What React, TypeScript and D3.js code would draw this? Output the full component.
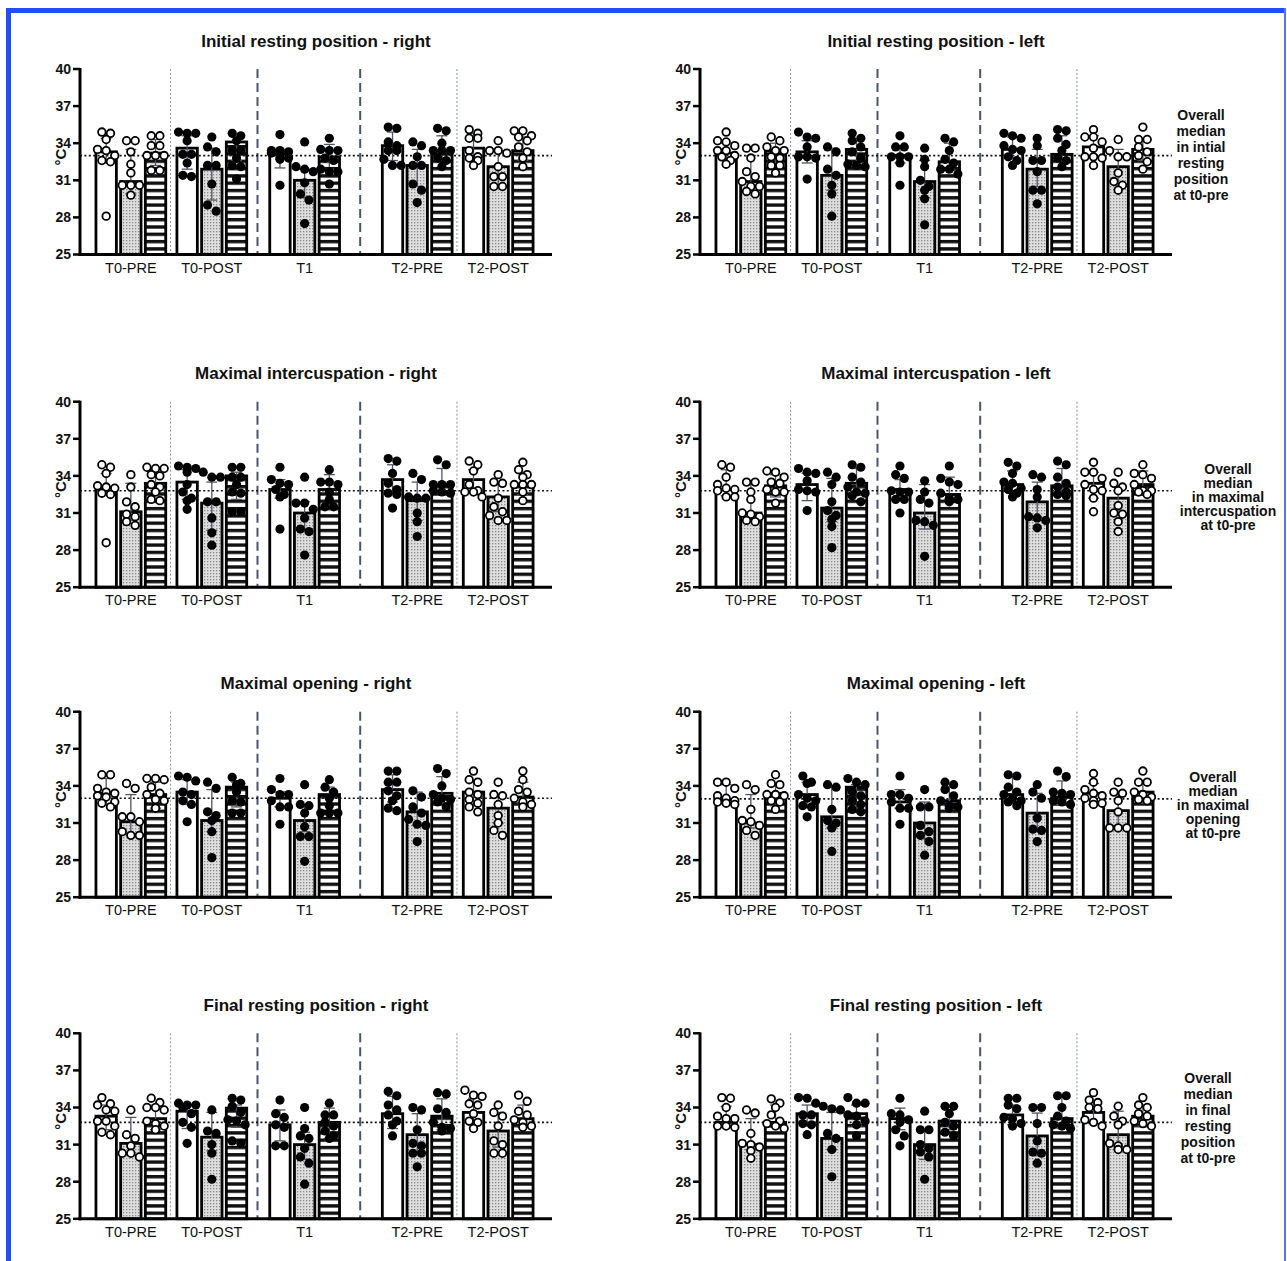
import React from "react";
import * as d3 from "d3";

// ---------- texts ----------
const GROUPS = ["T0-PRE", "T0-POST", "T1", "T2-PRE", "T2-POST"];
const Y_TICKS = [25, 28, 31, 34, 37, 40];
const PANEL_TITLES = [
  "Initial resting position - right", "Initial resting position - left",
  "Maximal intercuspation - right", "Maximal intercuspation - left",
  "Maximal opening - right", "Maximal opening - left",
  "Final resting position - right", "Final resting position - left",
];
const OVERALL_MEDIANS = [33.0, 33.0, 32.8, 32.8, 33.0, 32.95, 32.8, 32.8];
const SIDE_NOTES = [
  ["Overall", "median", "in intial", "resting", "position", "at t0-pre"],
  ["Overall", "median", "in maximal", "intercuspation", "at t0-pre"],
  ["Overall", "median", "in maximal", "opening", "at t0-pre"],
  ["Overall", "median", "in final", "resting", "position", "at t0-pre"],
];
const OPEN_MARKERS = [true, false, false, false, true];
const DIVIDER_STYLES = ["thin", "thick", "thick", "thin"];

// ---------- data: bars (median), error low/high, individual points ----------
// order per panel: T0-PRE (b1,b2,b3), T0-POST, T1, T2-PRE, T2-POST
const irRightBars = [33.3, 30.9, 33.2, 33.6, 31.9, 34.1, 33.1, 31.0, 32.9, 33.8, 32.2, 33.4, 33.6, 32.1, 33.4];
const irRightLo = [32.4, 29.9, 32.2, 31.9, 29.4, 32.6, 32.0, 29.6, 31.9, 32.6, 30.5, 32.6, 32.6, 30.5, 32.6];
const irRightHi = [34.4, 33.5, 34.3, 34.6, 33.6, 34.5, 33.5, 31.9, 33.9, 34.9, 33.5, 34.6, 34.8, 33.4, 34.5];
const irRightPts = [
  [34.9, 34.8, 34.3, 33.5, 33.4, 33.0, 32.6, 32.5, 28.1],
  [34.2, 34.2, 33.3, 32.3, 31.6, 30.6, 30.6, 30.6, 29.8],
  [34.6, 34.6, 33.8, 33.8, 33.0, 33.0, 33.0, 31.8, 31.8],
  [34.9, 34.8, 34.8, 34.2, 33.1, 33.1, 32.4, 31.4, 31.3],
  [34.5, 33.7, 33.3, 32.2, 32.2, 30.7, 29.0, 28.5],
  [34.8, 34.6, 34.2, 33.4, 33.4, 32.8, 32.2, 32.1, 31.1],
  [34.7, 33.4, 33.4, 33.3, 33.2, 32.8, 32.8, 32.7, 30.6],
  [34.1, 32.1, 31.9, 31.7, 30.8, 29.9, 29.4, 27.5],
  [34.4, 33.5, 33.4, 33.4, 32.8, 32.6, 31.9, 31.7, 31.7, 30.7],
  [35.3, 35.2, 34.1, 33.8, 33.4, 33.4, 32.7, 32.2, 32.2],
  [34.1, 33.8, 32.9, 32.2, 32.2, 30.7, 30.2, 29.2],
  [35.2, 35.0, 34.0, 33.4, 33.4, 33.4, 32.8, 32.6, 32.1],
  [35.1, 34.8, 34.4, 34.4, 33.4, 32.9, 32.8, 32.6, 32.2],
  [34.2, 33.4, 33.4, 33.2, 32.1, 31.3, 31.3, 30.5, 30.5],
  [35.0, 35.0, 34.6, 34.5, 34.2, 33.7, 33.3, 32.8, 32.1],
];

const irLeftBars = [33.2, 30.9, 33.4, 33.3, 31.4, 33.5, 33.0, 30.9, 32.5, 33.5, 31.9, 33.1, 33.7, 32.1, 33.5];
const irLeftLo = [32.6, 30.0, 32.2, 32.4, 30.2, 32.3, 32.4, 29.6, 31.8, 32.8, 30.5, 32.6, 32.8, 30.6, 32.6];
const irLeftHi = [34.0, 33.0, 34.0, 34.2, 33.6, 34.2, 33.6, 32.6, 34.0, 34.5, 33.5, 34.6, 34.6, 33.5, 34.3];
const irLeftPts = [
  [34.9, 34.2, 34.1, 33.8, 33.4, 33.4, 33.0, 32.9, 32.6, 32.3],
  [33.6, 33.6, 32.8, 31.7, 31.3, 30.9, 30.5, 30.5, 30.1, 29.9],
  [34.5, 34.2, 33.7, 33.4, 33.4, 32.9, 32.8, 32.2, 32.2, 31.6],
  [34.9, 34.5, 34.4, 33.7, 32.9, 32.9, 32.8, 31.1],
  [33.7, 33.3, 31.9, 31.4, 30.6, 29.9, 28.1],
  [34.8, 34.4, 34.2, 33.7, 33.3, 32.8, 32.3, 32.2, 32.1],
  [34.6, 33.7, 33.7, 32.9, 32.9, 32.9, 32.4, 30.6],
  [33.6, 32.7, 32.1, 31.0, 30.5, 30.2, 29.5, 27.4],
  [34.4, 34.1, 33.4, 32.7, 32.4, 31.9, 31.9, 31.5],
  [34.8, 34.6, 34.4, 33.8, 33.5, 33.4, 32.9, 32.6, 32.2],
  [34.4, 33.8, 32.6, 32.6, 31.7, 30.2, 30.2, 29.1],
  [35.1, 35.0, 34.4, 33.9, 33.4, 32.8, 32.6, 32.1],
  [35.1, 34.5, 34.5, 34.1, 33.6, 32.9, 32.9, 32.8, 32.2],
  [34.3, 33.4, 32.9, 32.9, 31.6, 30.9, 30.6, 30.2],
  [35.3, 34.3, 34.3, 33.7, 33.3, 33.0, 32.5, 31.9],
];

const miRightBars = [33.05, 31.1, 33.4, 33.5, 31.8, 34.0, 32.9, 31.0, 32.9, 33.7, 32.0, 33.3, 33.7, 32.3, 33.3];
const miRightLo = [32.5, 30.4, 32.4, 32.1, 29.6, 32.1, 32.2, 29.6, 31.5, 32.6, 30.4, 32.6, 32.7, 31.1, 32.5];
const miRightHi = [34.2, 33.4, 34.3, 34.5, 33.5, 34.3, 33.7, 31.9, 34.1, 34.9, 33.5, 34.6, 34.5, 33.3, 34.3];
const miRightPts = [
  [34.9, 34.7, 34.2, 33.2, 33.1, 33.0, 32.6, 32.5, 28.6],
  [34.1, 33.1, 31.9, 31.5, 30.9, 30.7, 30.3, 30.0],
  [34.7, 34.6, 34.6, 34.1, 34.0, 33.3, 33.1, 32.7, 32.1, 32.0],
  [34.8, 34.7, 34.6, 34.3, 33.3, 32.7, 32.2, 32.0, 31.3],
  [34.3, 33.9, 33.9, 31.9, 31.9, 30.6, 29.4, 28.4],
  [34.7, 34.7, 33.9, 33.9, 33.3, 32.7, 32.6, 31.1, 31.1],
  [34.7, 33.7, 33.4, 33.3, 32.9, 32.5, 32.3, 29.7],
  [33.9, 31.8, 31.8, 31.3, 30.6, 29.7, 29.5, 27.6],
  [34.5, 33.5, 33.5, 33.3, 32.7, 32.1, 31.5, 31.5],
  [35.4, 35.2, 34.2, 33.4, 32.9, 32.6, 32.5, 31.4],
  [34.2, 33.7, 32.3, 32.2, 32.2, 31.0, 30.3, 29.1],
  [35.3, 34.9, 33.3, 33.3, 33.3, 32.8, 32.7, 32.6],
  [35.2, 34.9, 34.4, 33.3, 32.8, 32.7, 32.7, 32.3],
  [34.1, 33.5, 33.4, 32.2, 31.5, 31.1, 30.8, 30.4, 30.4],
  [35.1, 34.5, 34.1, 33.9, 33.3, 33.3, 33.3, 32.7, 32.0],
];

const miLeftBars = [32.9, 31.0, 33.2, 33.3, 31.4, 33.4, 32.9, 31.0, 32.5, 33.3, 31.9, 33.2, 33.4, 32.2, 33.3];
const miLeftLo = [32.4, 30.4, 32.3, 32.0, 30.3, 32.5, 32.1, 29.7, 32.1, 32.6, 30.4, 32.4, 32.2, 31.0, 32.7];
const miLeftHi = [34.5, 33.3, 34.1, 34.2, 33.8, 34.6, 33.7, 33.3, 33.9, 34.4, 33.5, 34.6, 34.3, 33.1, 34.4];
const miLeftPts = [
  [34.9, 34.7, 33.9, 33.3, 33.0, 32.9, 32.8, 32.3, 32.3],
  [33.5, 33.5, 32.7, 32.1, 31.0, 30.9, 30.7, 30.4, 30.3],
  [34.4, 34.3, 33.9, 33.5, 33.4, 32.9, 32.7, 32.7, 31.8],
  [34.6, 34.3, 34.2, 33.6, 32.9, 32.8, 32.7, 31.2],
  [34.3, 33.9, 33.3, 31.9, 31.2, 30.8, 30.5, 29.9, 28.2],
  [34.9, 34.7, 33.9, 33.5, 33.1, 32.7, 32.6, 32.4, 31.9],
  [34.8, 34.1, 33.8, 32.8, 32.7, 32.7, 32.1, 32.1, 31.0],
  [33.6, 32.7, 32.1, 31.8, 30.4, 30.3, 30.0, 27.5],
  [34.8, 33.8, 33.5, 33.3, 32.6, 32.2, 32.1, 31.9],
  [35.1, 34.8, 34.2, 33.5, 33.4, 33.0, 32.9, 32.6, 32.3],
  [34.1, 33.9, 32.9, 32.3, 30.7, 30.6, 30.4, 29.8],
  [35.2, 34.9, 33.9, 33.4, 33.1, 32.7, 32.5, 32.4],
  [35.1, 34.3, 34.3, 33.8, 33.3, 32.9, 32.8, 32.2, 31.1],
  [34.3, 33.4, 33.1, 32.8, 31.6, 31.0, 30.9, 30.3, 29.5],
  [34.9, 34.2, 34.1, 33.8, 33.3, 32.8, 32.8, 32.7, 32.5],
];

const moRightBars = [33.4, 31.1, 33.3, 33.5, 31.2, 33.9, 33.0, 31.2, 33.3, 33.7, 31.9, 33.4, 33.5, 32.2, 33.1];
const moRightLo = [32.5, 30.1, 32.2, 32.5, 30.3, 32.3, 32.3, 30.3, 31.9, 32.7, 30.8, 32.6, 32.4, 31.0, 32.6];
const moRightHi = [34.6, 33.3, 34.3, 34.5, 33.7, 34.3, 33.5, 32.5, 33.9, 34.9, 33.5, 34.75, 34.4, 33.1, 34.3];
const moRightPts = [
  [34.9, 34.9, 33.8, 33.5, 33.4, 33.2, 33.1, 32.7, 32.6, 32.3],
  [34.2, 33.8, 31.5, 31.5, 31.1, 30.3, 30.0, 30.0],
  [34.6, 34.6, 34.5, 33.9, 33.4, 33.3, 32.9, 32.8, 32.2],
  [34.8, 34.7, 34.4, 33.5, 33.3, 32.8, 32.5, 31.1],
  [34.3, 33.8, 31.9, 31.6, 31.2, 30.3, 28.2],
  [34.7, 34.2, 34.1, 33.5, 32.8, 32.7, 31.8, 31.8],
  [34.6, 33.7, 33.3, 33.3, 32.8, 32.3, 32.3, 30.9],
  [34.1, 32.5, 32.4, 31.8, 30.7, 29.9, 29.9, 27.9],
  [34.5, 33.9, 33.5, 33.0, 32.4, 31.8, 31.8, 31.8],
  [35.2, 35.2, 34.3, 34.3, 33.6, 33.2, 32.8, 32.2, 32.0],
  [33.6, 33.1, 32.3, 31.8, 31.3, 30.9, 30.8, 29.5],
  [35.4, 35.0, 34.0, 33.3, 33.0, 32.9, 32.7, 32.3],
  [35.2, 34.5, 34.3, 33.5, 33.3, 32.9, 32.6, 32.3, 31.9],
  [34.3, 33.3, 33.2, 32.5, 31.6, 31.0, 30.4, 30.0],
  [35.2, 34.5, 33.7, 33.5, 33.0, 32.7, 32.5, 32.3],
];

const moLeftBars = [32.9, 31.0, 33.4, 33.3, 31.5, 33.9, 32.7, 31.0, 32.8, 33.3, 31.8, 33.1, 33.4, 32.0, 33.5];
const moLeftLo = [32.6, 30.6, 32.4, 32.4, 30.6, 32.2, 32.2, 29.7, 32.4, 32.6, 30.3, 32.5, 32.5, 30.8, 32.6];
const moLeftHi = [34.1, 33.3, 34.1, 34.3, 33.9, 34.1, 33.7, 32.7, 33.9, 34.75, 33.4, 34.4, 34.2, 33.3, 34.3];
const moLeftPts = [
  [34.3, 34.3, 33.8, 33.2, 33.0, 32.8, 32.7, 32.6, 32.5],
  [34.1, 33.7, 32.1, 31.2, 31.1, 30.8, 30.4, 30.0],
  [34.9, 34.2, 34.1, 33.3, 33.3, 33.2, 32.8, 32.7, 32.1],
  [34.8, 34.3, 34.2, 33.3, 33.0, 32.8, 32.4, 32.3, 31.5],
  [34.1, 33.9, 32.1, 31.2, 31.0, 30.6, 28.7],
  [34.6, 34.3, 34.1, 33.5, 33.2, 32.8, 32.5, 32.1, 31.9],
  [34.8, 33.3, 33.3, 33.0, 32.7, 32.2, 32.2, 30.9],
  [33.7, 32.3, 32.3, 30.8, 30.3, 30.0, 29.5, 28.4],
  [34.3, 34.1, 33.7, 33.2, 32.8, 32.4, 32.3, 32.2],
  [34.9, 34.8, 33.9, 33.5, 33.3, 33.0, 32.8, 32.7, 32.4],
  [34.1, 33.5, 33.0, 31.4, 30.5, 30.4, 29.5],
  [35.2, 34.75, 33.5, 33.4, 33.3, 32.8, 32.7, 32.5],
  [35.0, 34.3, 33.7, 33.4, 33.2, 33.0, 32.8, 32.6, 32.5],
  [34.3, 33.5, 33.4, 32.8, 31.9, 30.6, 30.6, 30.6],
  [35.2, 34.3, 34.3, 33.5, 33.3, 33.1, 32.9, 32.8],
];

const frRightBars = [33.3, 31.1, 33.1, 33.7, 31.6, 33.95, 32.6, 31.0, 32.8, 33.5, 31.8, 33.3, 33.6, 32.1, 33.1];
const frRightLo = [32.2, 30.2, 32.2, 32.3, 30.5, 32.4, 31.3, 29.8, 31.5, 32.3, 30.2, 32.2, 32.6, 30.8, 32.4];
const frRightHi = [34.2, 33.2, 34.2, 34.2, 33.6, 34.2, 33.8, 32.0, 33.95, 34.9, 33.5, 34.7, 34.75, 33.6, 34.2];
const frRightPts = [
  [34.8, 34.3, 34.2, 33.8, 33.7, 32.9, 32.9, 32.5, 32.0, 31.8],
  [33.8, 31.8, 31.5, 30.9, 30.3, 30.3, 30.0],
  [34.75, 34.4, 34.0, 34.0, 33.8, 32.9, 32.7, 32.5, 32.2],
  [34.35, 34.2, 34.2, 34.0, 33.5, 32.8, 32.4, 31.1],
  [33.8, 32.1, 31.9, 31.0, 30.3, 28.2],
  [34.75, 34.6, 34.1, 33.6, 33.0, 32.9, 32.6, 31.3, 31.1],
  [34.6, 33.5, 33.2, 32.6, 32.4, 30.9, 30.9],
  [34.0, 32.3, 31.7, 31.5, 30.7, 30.0, 29.5, 27.8],
  [34.35, 33.4, 33.4, 32.8, 32.5, 32.1, 31.7, 31.5],
  [35.3, 34.95, 34.2, 33.8, 33.4, 32.9, 32.6, 31.7],
  [34.0, 33.8, 32.2, 31.1, 30.9, 30.3, 30.3, 29.2],
  [35.2, 35.1, 33.9, 33.6, 32.8, 32.4, 32.3, 32.1],
  [35.4, 35.0, 34.9, 34.3, 34.2, 33.5, 32.9, 32.8, 32.3],
  [34.2, 33.6, 33.3, 32.5, 31.3, 31.0, 30.3, 30.3],
  [35.0, 34.5, 33.7, 33.4, 33.0, 32.8, 32.5, 32.4],
];

const frLeftBars = [32.8, 31.0, 32.8, 33.5, 31.5, 33.5, 33.1, 31.0, 32.9, 33.4, 31.7, 33.1, 33.6, 31.8, 33.3];
const frLeftLo = [32.5, 30.6, 32.4, 32.5, 30.6, 32.5, 32.2, 29.8, 32.2, 32.6, 30.1, 32.3, 32.7, 30.6, 32.5];
const frLeftHi = [34.1, 33.1, 34.2, 34.2, 33.6, 34.2, 33.95, 32.2, 33.8, 34.2, 33.55, 34.9, 34.4, 33.7, 34.2];
const frLeftPts = [
  [34.8, 34.75, 34.0, 33.3, 33.1, 33.1, 32.5, 32.5, 32.4],
  [33.8, 33.55, 31.9, 31.1, 31.0, 30.8, 30.5, 29.9],
  [34.7, 34.35, 34.0, 33.4, 32.9, 32.7, 32.5, 32.3],
  [34.8, 34.75, 34.35, 33.4, 33.4, 32.7, 32.6, 31.8],
  [34.1, 33.9, 33.8, 31.9, 31.5, 30.6, 28.4],
  [34.8, 34.35, 34.35, 33.4, 33.3, 32.9, 32.6, 31.7],
  [34.75, 33.5, 33.4, 33.0, 32.8, 32.2, 31.7, 30.9],
  [33.7, 32.2, 32.2, 31.0, 30.7, 30.4, 30.0, 28.2],
  [34.1, 34.1, 33.5, 32.8, 32.5, 32.0, 31.7],
  [34.75, 34.75, 34.2, 33.9, 33.2, 33.1, 32.7, 32.5],
  [34.0, 34.0, 32.7, 31.3, 30.4, 30.3, 29.5],
  [34.95, 34.95, 34.0, 33.3, 32.9, 32.6, 32.5, 32.3],
  [35.2, 34.6, 34.4, 34.0, 33.9, 33.0, 32.8, 32.5],
  [34.1, 33.3, 32.9, 32.6, 31.1, 30.9, 30.6, 30.6],
  [34.8, 34.2, 34.0, 33.5, 33.3, 32.9, 32.7, 32.5],
];

const PANEL_BARS = [irRightBars, irLeftBars, miRightBars, miLeftBars, moRightBars, moLeftBars, frRightBars, frLeftBars];
const PANEL_LO = [irRightLo, irLeftLo, miRightLo, miLeftLo, moRightLo, moLeftLo, frRightLo, frLeftLo];
const PANEL_HI = [irRightHi, irLeftHi, miRightHi, miLeftHi, moRightHi, moLeftHi, frRightHi, frLeftHi];
const PANEL_PTS = [irRightPts, irLeftPts, miRightPts, miLeftPts, moRightPts, moLeftPts, frRightPts, frLeftPts];

// ---------- layout ----------
const W = 1287;
const H = 1261;
const FONT = "'Liberation Sans', Arial, Helvetica, sans-serif";
const ROW_TOPS = [69, 401.7, 711.7, 1033.3];
const PLOT_H = 185.5;
const COL_LEFTS = [80, 700];
const PLOT_W = 472;
const GROUP_GAPS = [0.56, 0.28, 0.76, 1.56, 0.28];
const END_PAD = 0.68;
const BARS_PER_GROUP = 3;
const NOTE_X = [1201, 1228, 1213, 1208];
const NOTE_LH = [16, 14, 14, 16];
const NOTE_FS = [14, 14, 14, 14];
const NOTE_SHIFT = [0, 6, 6, -4];

const TOTAL_UNITS = GROUP_GAPS.reduce((a, b) => a + b, 0) + GROUPS.length * BARS_PER_GROUP + END_PAD;
const GROUP_STARTS = GROUP_GAPS.map((_, g) =>
  GROUP_GAPS.slice(0, g + 1).reduce((a, b) => a + b, 0) + g * BARS_PER_GROUP
);

function swarmOffsets(vals: number[], y: (v: number) => number, step: number): number[] {
  const order = vals.map((_, i) => i).sort((a, b) => vals[b] - vals[a]);
  const out = new Array(vals.length).fill(0);
  let row: number[] = [];
  let rowY = -Infinity;
  const flush = () => {
    row.forEach((k, j) => { out[k] = (j - (row.length - 1) / 2) * step; });
    row = [];
  };
  order.forEach((k) => {
    const py = y(vals[k]);
    if (row.length && py - rowY < 6.5 && row.length < 3) row.push(k);
    else { flush(); row = [k]; rowY = py; }
  });
  flush();
  return out;
}

function Panel({ idx }: { idx: number }) {
  const r = Math.floor(idx / 2);
  const c = idx % 2;
  const left = COL_LEFTS[c];
  const top = ROW_TOPS[r];
  const bottom = top + PLOT_H;
  const y = d3.scaleLinear().domain([25, 40]).range([bottom, top]);
  const x = d3.scaleLinear().domain([0, TOTAL_UNITS]).range([left, left + PLOT_W]);
  const unit = x(1) - x(0);
  const barOuter = unit * 0.94;
  const sw = 2.8;
  const bars = PANEL_BARS[idx];
  const lo = PANEL_LO[idx];
  const hi = PANEL_HI[idx];
  const pts = PANEL_PTS[idx];
  const fills = ["#ffffff", "url(#stipple)", `url(#stripes${idx})`];

  const dividers = GROUP_STARTS.slice(1).map((s, i) => {
    const prevEnd = GROUP_STARTS[i] + BARS_PER_GROUP;
    return { xPos: x((prevEnd + s) / 2 - 0.03), style: DIVIDER_STYLES[i] };
  });

  return (
    <g>
      <defs>
        <pattern id={`stripes${idx}`} width="10" height="7.3" y={bottom} patternUnits="userSpaceOnUse">
          <rect width="10" height="7.3" fill="#ffffff" />
          <rect width="10" height="3.4" fill="#111111" />
        </pattern>
      </defs>
      <text x={left + PLOT_W / 2} y={top - 22.5} textAnchor="middle" fontFamily={FONT} fontWeight="bold" fontSize={17} fill="#111">
        {PANEL_TITLES[idx]}
      </text>
      {dividers.map((d, i) => (
        <line key={i} x1={d.xPos} x2={d.xPos} y1={y(40)} y2={y(25)}
          stroke={d.style === "thin" ? "#8392aa" : "#4b5569"}
          strokeWidth={d.style === "thin" ? 1 : 2}
          strokeDasharray={d.style === "thin" ? "2,2" : "9,5"} />
      ))}
      {bars.map((v, k) => {
        const g = Math.floor(k / BARS_PER_GROUP);
        const i = k % BARS_PER_GROUP;
        const cx = x(GROUP_STARTS[g] + i + 0.5);
        return (
          <rect key={k} x={cx - barOuter / 2 + sw / 2} y={y(v)} width={barOuter - sw} height={y(25) - y(v)}
            fill={fills[i]} stroke="#000" strokeWidth={sw} />
        );
      })}
      <line x1={left} x2={left + PLOT_W} y1={y(OVERALL_MEDIANS[idx])} y2={y(OVERALL_MEDIANS[idx])}
        stroke="#111" strokeWidth={1.7} strokeDasharray="2,2.4" />
      {bars.map((_, k) => {
        const g = Math.floor(k / BARS_PER_GROUP);
        const i = k % BARS_PER_GROUP;
        const cx = x(GROUP_STARTS[g] + i + 0.5);
        return (
          <g key={k} stroke="#4d5566" strokeWidth={1.3}>
            <line x1={cx} x2={cx} y1={y(lo[k])} y2={y(hi[k])} />
            <line x1={cx - 5.5} x2={cx + 5.5} y1={y(lo[k])} y2={y(lo[k])} />
            <line x1={cx - 5.5} x2={cx + 5.5} y1={y(hi[k])} y2={y(hi[k])} />
          </g>
        );
      })}
      {pts.map((vals, k) => {
        const g = Math.floor(k / BARS_PER_GROUP);
        const i = k % BARS_PER_GROUP;
        const cx = x(GROUP_STARTS[g] + i + 0.5);
        const offs = swarmOffsets(vals, y, 8.6);
        const open = OPEN_MARKERS[g];
        return (
          <g key={k}>
            {vals.map((v, j) => open ? (
              <circle key={j} cx={cx + offs[j]} cy={y(v)} r={3.8} fill="#fff" stroke="#000" strokeWidth={1.8} />
            ) : (
              <circle key={j} cx={cx + offs[j]} cy={y(v)} r={4.6} fill="#000" />
            ))}
          </g>
        );
      })}
      {/* axes */}
      <line x1={left} x2={left} y1={top - 1} y2={bottom + 1.5} stroke="#000" strokeWidth={3} />
      <line x1={left - 1.5} x2={left + PLOT_W} y1={bottom} y2={bottom} stroke="#000" strokeWidth={3} />
      {Y_TICKS.map((t) => (
        <g key={t}>
          <line x1={left - 7} x2={left} y1={y(t)} y2={y(t)} stroke="#000" strokeWidth={2.5} />
          <text x={left - 9} y={y(t)} dy="0.35em" textAnchor="end" fontFamily={FONT} fontWeight="bold" fontSize={14} fill="#111">
            {t}
          </text>
        </g>
      ))}
      <text transform={`translate(${left - 19},${top + 88}) rotate(-90)`} textAnchor="middle" dy="0.35em"
        fontFamily={FONT} fontWeight="bold" fontSize={15} fill="#111">°C</text>
      {GROUPS.map((gname, g) => (
        <text key={gname} x={x(GROUP_STARTS[g] + BARS_PER_GROUP / 2)} y={bottom + 18} textAnchor="middle"
          fontFamily={FONT} fontSize={14.5} fill="#111">{gname}</text>
      ))}
    </g>
  );
}

export default function App() {
  return (
    <svg width={W} height={H} style={{ position: "absolute", left: 0, top: 0, background: "#fff" }}>
      <defs>
        <pattern id="stipple" width="3" height="3" patternUnits="userSpaceOnUse">
          <rect width="3" height="3" fill="#dedede" />
          <rect width="1.3" height="1.3" fill="#8a8a8a" />
        </pattern>
      </defs>
      <rect width={W} height={H} fill="#fff" />
      {PANEL_TITLES.map((_, i) => <Panel key={i} idx={i} />)}
      {SIDE_NOTES.map((lines, r) => {
        const yScale = d3.scaleLinear().domain([25, 40]).range([ROW_TOPS[r] + PLOT_H, ROW_TOPS[r]]);
        const cy = yScale(OVERALL_MEDIANS[r * 2 + 1]) + NOTE_SHIFT[r];
        return (
          <g key={r}>
            {lines.map((ln, j) => (
              <text key={j} x={NOTE_X[r]} y={cy + (j - (lines.length - 1) / 2) * NOTE_LH[r]} dy="0.35em"
                textAnchor="middle" fontFamily={FONT} fontWeight="bold" fontSize={NOTE_FS[r]} fill="#111">{ln}</text>
            ))}
          </g>
        );
      })}
      {/* blue frame */}
      <line x1={6} x2={1286} y1={10.5} y2={10.5} stroke="#1f4ff5" strokeWidth={5} />
      <line x1={8.5} x2={8.5} y1={8} y2={H} stroke="#1f4ff5" strokeWidth={5} />
      <line x1={1285} x2={1285} y1={8} y2={H} stroke="#5577f5" strokeWidth={2} />
    </svg>
  );
}
